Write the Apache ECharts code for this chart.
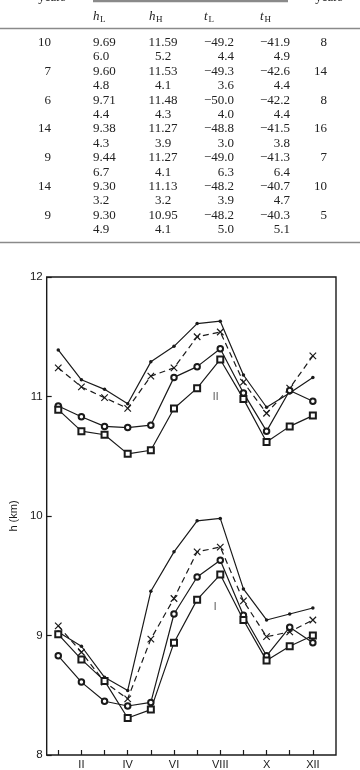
<!DOCTYPE html>
<html>
<head>
<meta charset="utf-8">
<script src="https://cdn.jsdelivr.net/npm/echarts@6/dist/echarts.min.js"></script>
<style>
  html, body { margin: 0; padding: 0; background: #fff; }
  #chart { width: 360px; height: 770px; }
</style>
</head>
<body>
<div id="chart"></div>
<script>
// table values (kept as text so the printed digits stay as they are)
const yearsA = ['10', '7', '6', '14', '9', '14', '9']
const hL = ['9.69', '9.60', '9.71', '9.38', '9.44', '9.30', '9.30']
const hLsd = ['6.0', '4.8', '4.4', '4.3', '6.7', '3.2', '4.9']
const hH = ['11.59', '11.53', '11.48', '11.27', '11.27', '11.13', '10.95']
const hHsd = ['5.2', '4.1', '4.3', '3.9', '4.1', '3.2', '4.1']
const tL = ['−49.2', '−49.3', '−50.0', '−48.8', '−49.0', '−48.2', '−48.2']
const tLsd = ['4.4', '3.6', '4.0', '3.0', '6.3', '3.9', '5.0']
const tH = ['−41.9', '−42.6', '−42.2', '−41.5', '−41.3', '−40.7', '−40.3']
const tHsd = ['4.9', '4.4', '4.4', '3.8', '6.4', '4.7', '5.1']
const yearsB = ['8', '14', '8', '16', '7', '10', '5']

// chart
const months = [1, 2, 3, 4, 5, 6, 7, 8, 9, 10, 11, 12]
const monthNames = ['I', 'II', 'III', 'IV', 'V', 'VI', 'VII', 'VIII', 'IX', 'X', 'XI', 'XII']
const labelledMonths = [2, 4, 6, 8, 10, 12]
const yTicks = [8, 9, 10, 11, 12]

// group II (upper)
const upDot = [11.39, 11.14, 11.06, 10.94, 11.29, 11.42, 11.61, 11.63, 11.18, 10.91, 11.03, 11.16]
const upCross = [11.24, 11.08, 10.99, 10.90, 11.17, 11.24, 11.50, 11.54, 11.12, 10.86, 11.07, 11.34]
const upCircle = [10.92, 10.83, 10.75, 10.74, 10.76, 11.16, 11.25, 11.40, 11.03, 10.71, 11.05, 10.96]
const upSquare = [10.89, 10.71, 10.68, 10.52, 10.55, 10.90, 11.07, 11.31, 10.98, 10.62, 10.75, 10.84]
// group I (lower)
const lowDot = [9.03, 8.91, 8.65, 8.54, 9.37, 9.70, 9.96, 9.98, 9.39, 9.13, 9.18, 9.23]
const lowCross = [9.08, 8.86, 8.61, 8.47, 8.97, 9.31, 9.70, 9.74, 9.29, 8.99, 9.03, 9.13]
const lowCircle = [8.83, 8.61, 8.45, 8.41, 8.44, 9.18, 9.49, 9.63, 9.17, 8.83, 9.07, 8.94]
const lowSquare = [9.01, 8.80, 8.62, 8.31, 8.38, 8.94, 9.30, 9.51, 9.13, 8.79, 8.91, 9.00]

const groupLabels = [
  { name: 'II', x: 7.8, y: 10.99 },
  { name: 'I', x: 7.78, y: 9.24 },
]

const INK = '#1a1a1a'
const SERIF = '"Liberation Serif", "DejaVu Serif", serif'
const SANS = '"Liberation Sans", Arial, sans-serif'
const crossPath = 'path://M0,0L10,10M10,0L0,10'

const pts = (arr) => months.map((m, i) => [m, arr[i]])

const mkSeries = (arr, kind) => {
  const s = {
    type: 'line',
    data: pts(arr),
    lineStyle: { color: INK, width: 1.2 },
    itemStyle: { color: INK, borderColor: INK, borderWidth: 0.9 },
    symbolKeepAspect: true,
    z: 3,
    animation: false,
  }
  if (kind === 'dot') { s.symbol = 'circle'; s.symbolSize = 3.5; s.itemStyle.borderWidth = 0 }
  if (kind === 'circle') { s.symbol = 'emptyCircle'; s.symbolSize = 5.5 }
  if (kind === 'square') { s.symbol = 'emptyRect'; s.symbolSize = 6 }
  if (kind === 'cross') {
    s.symbol = crossPath
    s.symbolSize = 6.5
    s.itemStyle = { color: 'none', borderColor: INK, borderWidth: 1.2 }
    s.lineStyle.type = [6, 4]
  }
  return s
}

// table as graphic text
const tableGraphics = () => {
  const els = []
  const txt = (text, x, y, align, extra) => els.push({
    type: 'text', x, y, silent: true,
    style: Object.assign({ text, fill: '#222', font: '13px ' + SERIF, align, verticalAlign: 'middle' }, extra || {}),
  })
  const line = (x1, y1, x2, y2, w) => els.push({
    type: 'line', silent: true,
    shape: { x1, y1, x2, y2 },
    style: { stroke: '#8a8a8a', lineWidth: w },
  })
  line(93, 1, 288, 1, 2.5)
  txt('years', 52, -2.5, 'center')
  txt('years', 329, -2.5, 'center')
  const heads = [['h', 'L', 93], ['h', 'H', 149], ['t', 'L', 204], ['t', 'H', 260]]
  heads.forEach(([a, b, x]) => {
    txt(a, x, 16.5, 'left', { font: 'italic 13px ' + SERIF })
    txt(b, x + (a === 'h' ? 7 : 4.5), 19.5, 'left', { font: '9px ' + SERIF })
  })
  line(0, 28.5, 360, 28.5, 1.5)
  for (let i = 0; i < yearsA.length; i++) {
    const y1 = 42.5 + i * 28.8
    const y2 = y1 + 14.4
    txt(yearsA[i], 51, y1, 'right')
    txt(hL[i], 93, y1, 'left')
    txt(hLsd[i], 93, y2, 'left')
    txt(hH[i], 163, y1, 'center')
    txt(hHsd[i], 163, y2, 'center')
    txt(tL[i], 234, y1, 'right')
    txt(tLsd[i], 234, y2, 'right')
    txt(tH[i], 290, y1, 'right')
    txt(tHsd[i], 290, y2, 'right')
    txt(yearsB[i], 327, y1, 'right')
  }
  line(0, 242.5, 360, 242.5, 1.5)
  return els
}

const chart = echarts.init(document.getElementById('chart'), null, { renderer: 'canvas' })

const option = {
  backgroundColor: '#fff',
  animation: false,
  grid: {
    left: 41, right: 24, top: 277, bottom: 15,
    show: true, borderColor: INK, borderWidth: 1.4, backgroundColor: 'transparent',
  },
  xAxis: {
    type: 'value', min: 0.5, max: 13,
    axisLine: { show: false },
    splitLine: { show: false },
    axisTick: { show: true, inside: true, length: 5, customValues: months, lineStyle: { color: INK, width: 1.2 } },
    axisLabel: {
      show: true, margin: 4, customValues: labelledMonths,
      color: INK, fontSize: 11, fontFamily: SANS,
      formatter: (v) => monthNames[v - 1],
    },
  },
  yAxis: {
    type: 'value', min: 8, max: 12, interval: 1,
    name: 'h (km)', nameLocation: 'middle', nameGap: 27, nameRotate: 90,
    nameTextStyle: { color: INK, fontSize: 11, fontFamily: SANS },
    axisLine: { show: false },
    splitLine: { show: false },
    axisTick: { show: true, inside: true, length: 5, customValues: yTicks, lineStyle: { color: INK, width: 1.2 } },
    axisLabel: { color: INK, fontSize: 11.5, fontFamily: SANS, margin: 4, customValues: yTicks },
  },
  graphic: tableGraphics(),
  series: [
    mkSeries(upDot, 'dot'),
    mkSeries(upCross, 'cross'),
    mkSeries(upCircle, 'circle'),
    mkSeries(upSquare, 'square'),
    mkSeries(lowDot, 'dot'),
    mkSeries(lowCross, 'cross'),
    mkSeries(lowCircle, 'circle'),
    mkSeries(lowSquare, 'square'),
    {
      type: 'scatter',
      symbolSize: 0,
      data: groupLabels.map((g) => ({ value: [g.x, g.y], name: g.name })),
      label: { show: true, position: 'inside', formatter: '{b}', color: INK, fontSize: 10, fontFamily: SANS },
      z: 4,
    },
  ],
}

chart.setOption(option)
</script>
</body>
</html>
